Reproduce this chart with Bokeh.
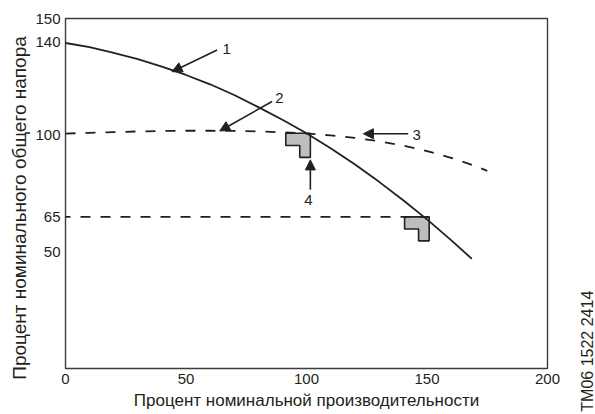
from bokeh.plotting import figure
from bokeh.models import FixedTicker, Arrow, NormalHead, Label
from bokeh.embed import file_html
from bokeh.resources import INLINE
import math

# ---- data ----
x_ticks = [0, 50, 100, 150, 200]
y_ticks = [50, 65, 100, 140, 150]

# curve 1: head curve (solid)
head_q = [0, 10, 20, 30, 40, 50, 60, 70, 80, 90, 100, 110, 120, 130, 140, 150, 160, 168.6]
head_h = [139.5, 137.7, 135.3, 132.6, 129.4, 125.8, 121.8, 117.2, 112.0, 106.6,
          100.8, 94.4, 87.5, 80.1, 72.2, 63.9, 55.0, 47.0]

# curve 2/3: dashed curve
dash_q = [0, 10, 20, 30, 40, 50, 60, 70, 80, 90, 100, 110, 120, 130, 140, 150, 160, 170, 175]
dash_h = [100.7, 101.0, 101.3, 101.6, 101.8, 101.9, 101.9, 101.8, 101.6, 101.2,
          100.7, 99.9, 98.8, 97.4, 95.6, 93.2, 90.3, 86.8, 84.7]

# horizontal dashed line at 65 %
hline_q = [0, 150.9]
hline_h = [65, 65]

# L-shaped marks (top-right corner points)
mark_q = [101.6, 150.9]
mark_h = [100.8, 65.0]

# numbered callouts: label, start point, tip point, text position
call_labels = ["1", "2", "3", "4"]
call_start_q = [62.9, 85.7, 142.2, 101.6]
call_start_h = [136.5, 114.4, 100.6, 76.6]
call_tip_q = [44.2, 64.0, 123.6, 101.6]
call_tip_h = [127.2, 101.8, 100.6, 89.4]
call_text_q = [65.1, 87.0, 144.0, 100.8]
call_text_h = [136.8, 116.1, 100.2, 72.3]

x_label = "Процент номинальной производительности"
y_label = "Процент номинального общего напора"
y_label_pos = (-19.1, 68.8)   # centre of the rotated y title, in data units
code_label = "TM06 1522 2414"
code_pos = (216.8, -18.5)     # start of the rotated drawing code, in data units

INK = "#231f20"
FONT = "Liberation Sans"

p = figure(frame_width=482, frame_height=350,
           min_border_left=65, min_border_right=48,
           min_border_top=18, min_border_bottom=46,
           x_range=(0, 200), y_range=(0, 150),
           output_backend="svg", toolbar_location=None)

p.xgrid.visible = False
p.ygrid.visible = False
p.outline_line_color = "#3c3c3c"
p.outline_line_width = 1.4
p.outline_line_alpha = 1.0

p.xaxis.ticker = FixedTicker(ticks=x_ticks)
p.yaxis.ticker = FixedTicker(ticks=y_ticks)
for ax in (p.xaxis, p.yaxis):
    ax.major_tick_line_color = None
    ax.minor_tick_line_color = None
    ax.major_tick_out = 0
    ax.major_tick_in = 0
    ax.minor_tick_out = 0
    ax.axis_line_color = None
    ax.major_label_text_font = FONT
    ax.major_label_text_font_size = "15px"
    ax.major_label_text_color = INK
    ax.major_label_standoff = 5
    ax.axis_label_text_font = FONT
    ax.axis_label_text_font_style = "normal"
    ax.axis_label_text_color = INK

p.xaxis.axis_label = x_label
p.xaxis.axis_label_text_font_size = "17px"
p.xaxis.axis_label_standoff = 4

# y title: placed in the left panel so it can sit slightly below the frame centre
p.add_layout(Label(x=y_label_pos[0], y=y_label_pos[1], text=y_label, angle=math.pi / 2,
                   text_font=FONT, text_font_size="19px", text_color=INK,
                   text_align="center", text_baseline="middle"), "left")

# L-shaped marks
shape_dq = [0, -10.2, -10.2, -4.4, -4.4, 0]
shape_dh = [0, 0, -5.2, -5.2, -10.3, -10.3]
xs = [[q + d for d in shape_dq] for q in mark_q]
ys = [[h + d for d in shape_dh] for h in mark_h]
p.patches(xs, ys, fill_color="#bcbec0", line_color=INK, line_width=1.6)

# lines
p.line(dash_q, dash_h, line_color=INK, line_width=1.8, line_dash="10 10")
p.line(hline_q, hline_h, line_color=INK, line_width=1.8, line_dash="10 10", line_dash_offset=5)
p.line(head_q, head_h, line_color=INK, line_width=1.8)

# callouts
for lab, sq, sh, tq, th, lq, lh in zip(call_labels, call_start_q, call_start_h,
                                       call_tip_q, call_tip_h, call_text_q, call_text_h):
    p.add_layout(Arrow(x_start=sq, y_start=sh, x_end=tq, y_end=th,
                       line_color=INK, line_width=1.6,
                       end=NormalHead(size=10, fill_color=INK, line_color=INK, line_width=1)))
    align = "center" if lab == "4" else "left"
    p.add_layout(Label(x=lq, y=lh, text=lab, text_font=FONT, text_font_size="15px",
                       text_color=INK, text_align=align, text_baseline="middle"))

# rotated drawing code, placed in the right side panel so it is not clipped to the frame
p.add_layout(Label(x=code_pos[0], y=code_pos[1], text=code_label, angle=math.pi / 2,
                   text_font=FONT, text_font_size="16px", text_color=INK,
                   text_align="left", text_baseline="middle"), "right")

open("out.html", "w").write(file_html(p, INLINE))
